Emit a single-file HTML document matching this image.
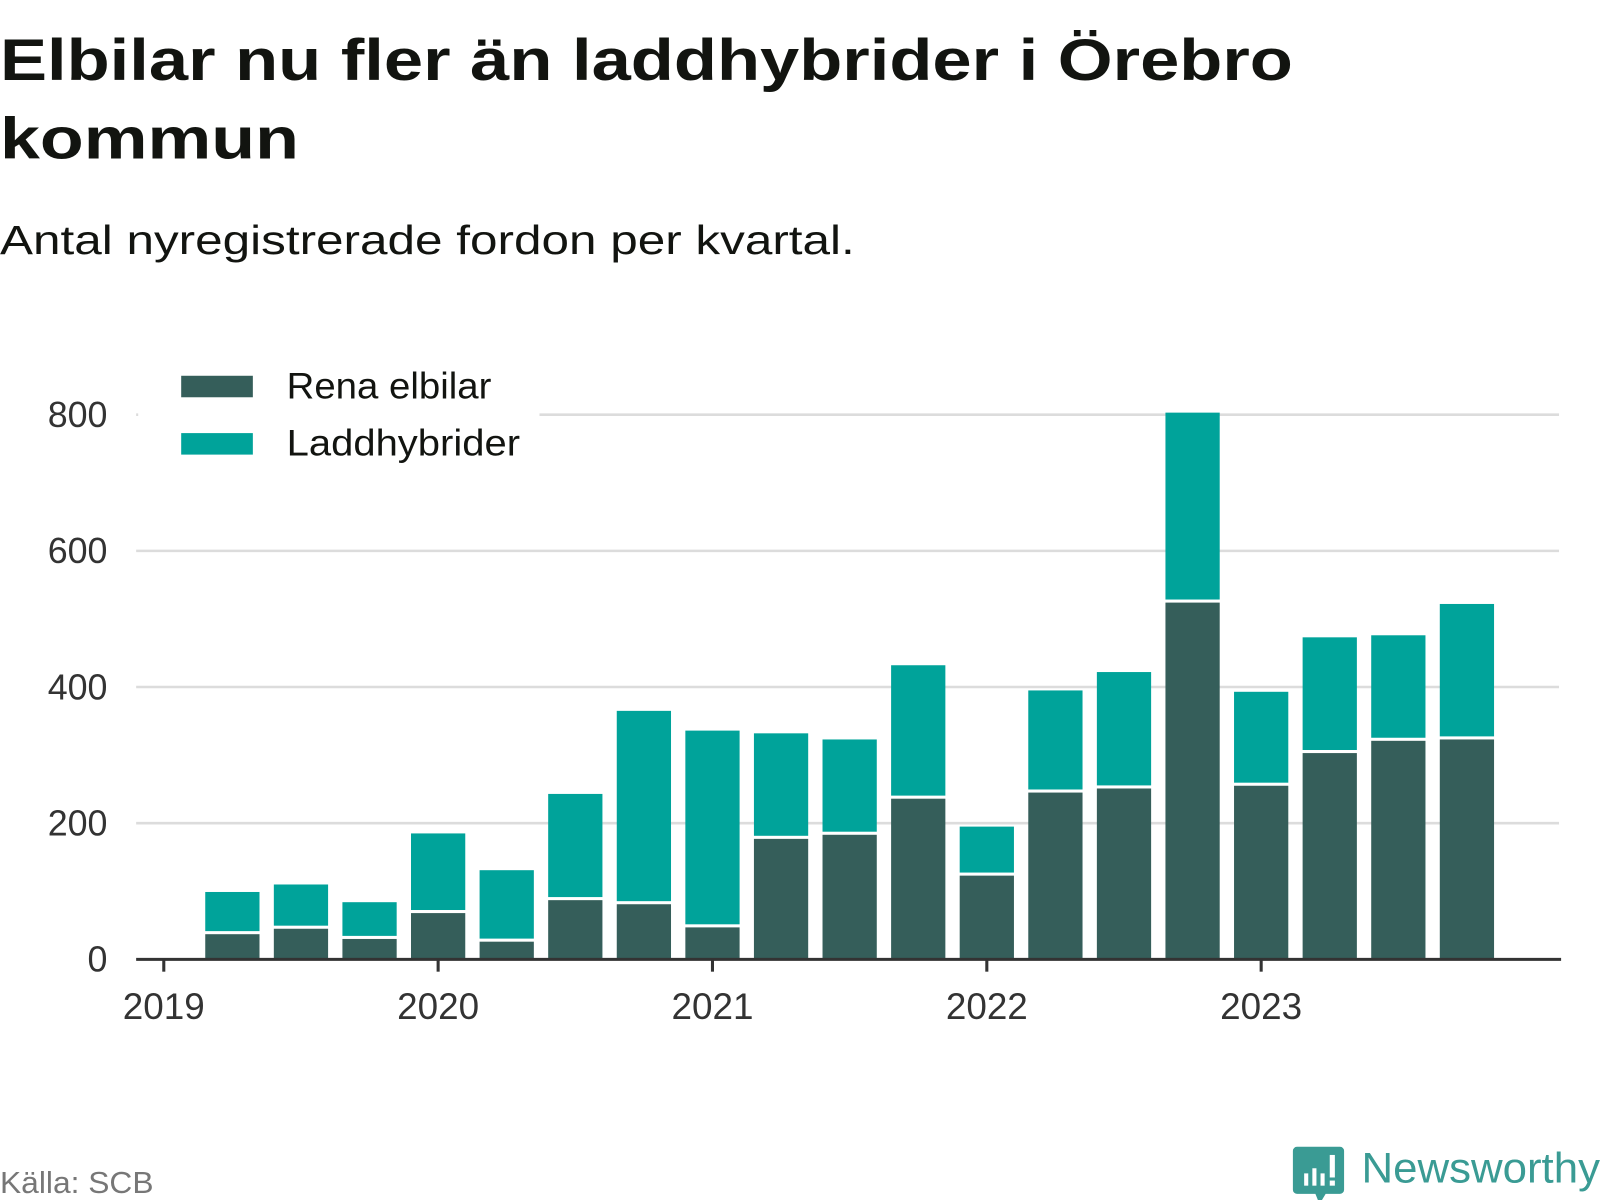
<!DOCTYPE html>
<html><head><meta charset="utf-8"><style>
html,body{margin:0;padding:0;background:#fff;}
svg{display:block;font-family:"Liberation Sans",sans-serif;}
</style></head><body>
<svg width="1600" height="1200" viewBox="0 0 1563 1172" preserveAspectRatio="none">
<text x="0" y="78" font-size="57" font-weight="bold" fill="#121410" textLength="1263" lengthAdjust="spacingAndGlyphs">Elbilar nu fler än laddhybrider i Örebro</text>
<text x="0" y="155" font-size="57" font-weight="bold" fill="#121410" textLength="292" lengthAdjust="spacingAndGlyphs">kommun</text>
<text x="0" y="248" font-size="40" fill="#121410" textLength="835" lengthAdjust="spacingAndGlyphs">Antal nyregistrerade fordon per kvartal.</text>
<g id="grid"></g>
<g id="bars"></g>
<g id="axis"></g>
<rect x="135" y="352" width="392" height="105" fill="#fff"/>
<rect x="177" y="367" width="70" height="21" fill="#355e5a"/>
<text x="280" y="389" font-size="36" fill="#121410" textLength="200" lengthAdjust="spacingAndGlyphs">Rena elbilar</text>
<rect x="177" y="423" width="70" height="21" fill="#00a39a"/>
<text x="280" y="445" font-size="36" fill="#121410" textLength="228" lengthAdjust="spacingAndGlyphs">Laddhybrider</text>
<text x="0" y="1165" font-size="30" fill="#777" textLength="150" lengthAdjust="spacingAndGlyphs">Källa: SCB</text>
<g>
<path d="M1267 1120 h42 a4 4 0 0 1 4 4 v38 a4 4 0 0 1 -4 4 h-14 l-6 10 l-4 -10 h-18 a4 4 0 0 1 -4 -4 v-38 a4 4 0 0 1 4 -4z" fill="#3a9b94"/>
<rect x="1274" y="1146" width="4" height="12" fill="#fff"/><rect x="1282" y="1141" width="4" height="17" fill="#fff"/><rect x="1290" y="1146" width="4" height="12" fill="#fff"/><rect x="1299" y="1128" width="5" height="22" fill="#fff"/><rect x="1299" y="1153" width="5" height="5" fill="#fff"/>
<text x="1330" y="1155" font-size="42" fill="#3a9b94" textLength="233" lengthAdjust="spacingAndGlyphs">Newsworthy</text>
</g>
</svg>
<script>
const categories = ["2019-Q2","2019-Q3","2019-Q4","2020-Q1","2020-Q2","2020-Q3","2020-Q4","2021-Q1","2021-Q2","2021-Q3","2021-Q4","2022-Q1","2022-Q2","2022-Q3","2022-Q4","2023-Q1","2023-Q2","2023-Q3","2023-Q4"];
const renaElbilar = [37,45,30,68,26,87,81,47,177,183,236,123,245,251,524,255,303,321,323];
const laddhybrider = [62,65,54,117,105,156,284,289,155,140,196,72,150,171,279,138,170,155,199];
const yTicks = [0,200,400,600,800];
const yearLabels = ["2019","2020","2021","2022","2023"];
const NS="http://www.w3.org/2000/svg";
const y0=937, pxPerUnit=(937-405)/800;
const yScale=v=>y0-v*pxPerUnit;
const x2019=160, yearW=268;
const xScale=(year,q)=>x2019+(year-2019+q/4)*yearW;
const barW=53;
function mk(tag,attrs,parent){const e=document.createElementNS(NS,tag);for(const k in attrs)e.setAttribute(k,attrs[k]);parent.appendChild(e);return e;}
const grid=document.getElementById('grid'), bars=document.getElementById('bars'), axis=document.getElementById('axis');
yTicks.forEach(t=>{
  if(t>0){const l=mk('line',{x1:133,x2:1523,y1:yScale(t),y2:yScale(t),stroke:'#dcdcdc','stroke-width':2.5},grid);
  
  }
  const tx=mk('text',{x:105,y:yScale(t)+12,'text-anchor':'end','font-size':35,fill:'#333'},grid);
  tx.textContent=t;
  
  
});
categories.forEach((c,i)=>{
  const yr=+c.slice(0,4), q=+c.slice(6)-1;
  const cx=xScale(yr,q);
  const d=renaElbilar[i], h=laddhybrider[i];
  const r1=mk('rect',{x:cx-barW/2,y:yScale(d),width:barW,height:y0-yScale(d),fill:'#355e5a'},bars);
  
  
  const r2=mk('rect',{x:cx-barW/2,y:yScale(d+h),width:barW,height:Math.max(0,yScale(d)-yScale(d+h)-3),fill:'#00a39a'},bars);
  
  
});
const ax=mk('line',{x1:133,x2:1525,y1:y0,y2:y0,stroke:'#333','stroke-width':3},axis);


yearLabels.forEach((y,i)=>{
  const x=xScale(+y,0);
  const tk=mk('line',{x1:x,x2:x,y1:y0,y2:y0+12,stroke:'#333','stroke-width':3},axis);
  
  
  const t=mk('text',{x:x,y:995,'text-anchor':'middle','font-size':36,fill:'#333'},axis);
  t.textContent=y;
  
  
});
</script>
</body></html>
